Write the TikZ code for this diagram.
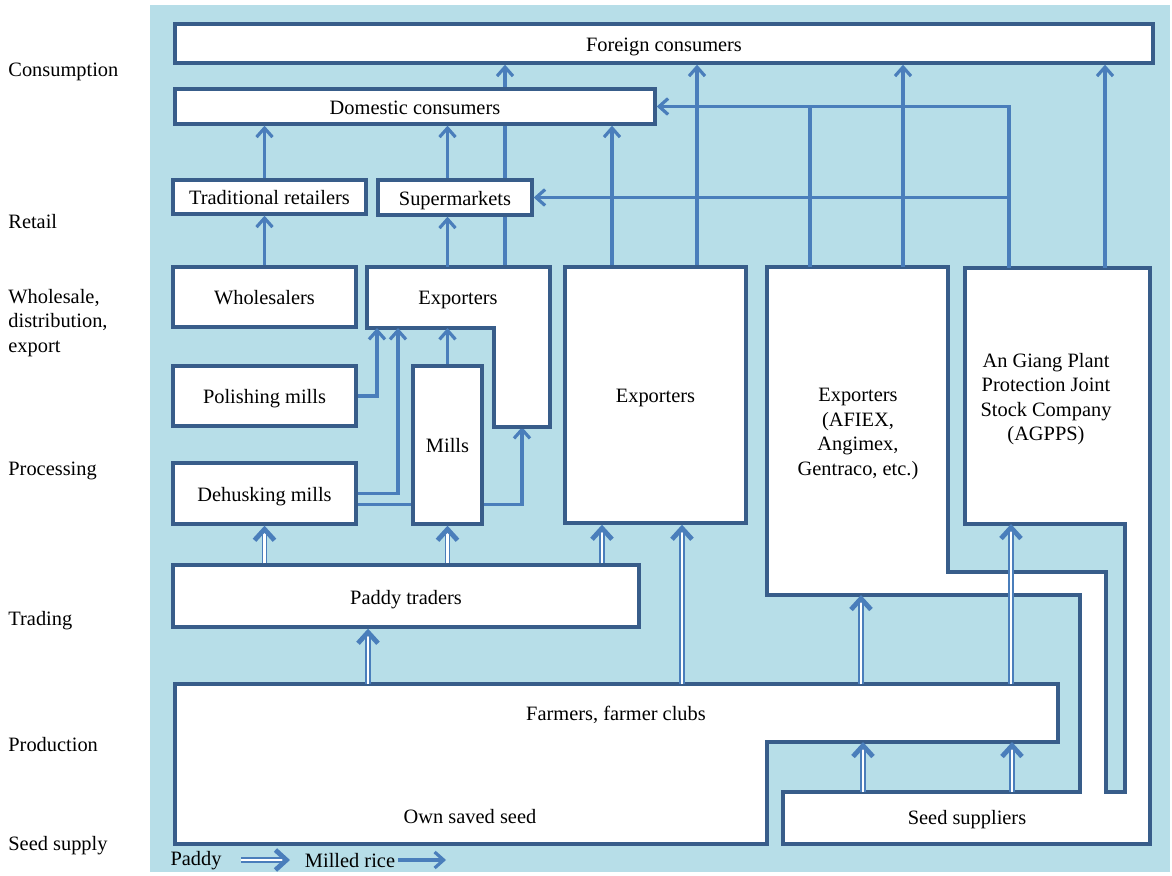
\documentclass[tikz,border=0pt]{standalone}
\usepackage{fontspec}
\setmainfont{Liberation Serif}
\usetikzlibrary{arrows.meta}
\usetikzlibrary{backgrounds}
\definecolor{bgblue}{HTML}{B7DEE8}
\definecolor{edgeblue}{HTML}{385D8A}
\definecolor{flowblue}{HTML}{4A7EBB}

\begin{document}
\begin{tikzpicture}[x=0.5pt, y=-0.5pt,
  font=\fontsize{10.2}{12.3}\selectfont,
  box/.style={draw=edgeblue, line width=1.7pt, fill=white, inner sep=0pt,
    text height=9pt, text depth=1pt},
  outline/.style={draw=edgeblue, line width=1.7pt, fill=white},
  rice/.style={draw=flowblue, line width=1.6pt, -{Straight Barb[length=4.5pt, width=8pt]}},
  riceline/.style={draw=flowblue, line width=1.6pt},
  paddy/.style={draw=flowblue, line width=0.75pt, double=white, double distance=1.4pt,
    -{Straight Barb[length=5.5pt, width=10pt, line width=2.4pt]}},
  stage/.style={anchor=west, align=left, inner sep=0pt}]
\useasboundingbox (0,0) rectangle (1172,876);
\begin{scope}[on background layer]
\fill[bgblue] (150,5) rectangle (1170,872);
\end{scope}

% stages
\node[stage] (consum) at (8,72) {Consumption};
\node[stage] (retail) at (8,222) {Retail};
\node[stage] (whsale) at (8,323) {Wholesale,\\distribution,\\export};
\node[stage] (proc) at (8,471) {Processing};
\node[stage] (trade) at (8,621) {Trading};
\node[stage] (prod) at (8,745) {Production};
\node[stage] (seedsup) at (8,846) {Seed supply};

% boxes
\node[box, minimum width=489pt, minimum height=19.5pt] (foreign) at (664,43.5) {Foreign consumers};
\node[box, minimum width=240pt, minimum height=17.5pt] (domestic) at (415,106.5) {Domestic consumers};
\node[box, minimum width=96.5pt, minimum height=17pt] (tradret) at (269.5,197) {Traditional retailers};
\node[box, minimum width=77pt, minimum height=17.5pt] (supermk) at (455,197.5) {Supermarkets};
\node[box, minimum width=91.5pt, minimum height=30pt] (whole) at (264.5,297) {Wholesalers};
\node[box, minimum width=91.5pt, minimum height=30pt] (polish) at (264.5,396) {Polishing mills};
\node[box, minimum width=91.5pt, minimum height=30.5pt] (dehusk) at (264.5,493.5) {Dehusking mills};
\node[box, minimum width=34.5pt, minimum height=79pt] (mills) at (447.5,445) {Mills};
\node[box, minimum width=90.5pt, minimum height=128pt] (expmid) at (655.5,395) {Exporters};
\node[box, minimum width=233pt, minimum height=31pt] (paddytr) at (406,596) {Paddy traders};

% exporters with a leg
\draw[outline] (367,267) -- (550,267) -- (550,427) -- (494,427) -- (494,328)
  -- (367,328) -- cycle;
\node (expsmall) at (458,300) {Exporters};
\coordinate (expsN) at (458,267);
\coordinate (expsB) at (458,328);
\coordinate (pe) at (377,328);
\coordinate (de) at (398,328);
\coordinate (le) at (522,427);

% farmers
\draw[outline] (175,684) -- (1058,684) -- (1058,742) -- (767,742) -- (767,844)
  -- (175,844) -- cycle;
\node (farmers) at (616,715) {Farmers, farmer clubs};
\node (ownseed) at (470,817) {Own saved seed};
\coordinate (farmN) at (616,684);
\coordinate (farmS) at (900,742);

% exporters, AGPPS and seed suppliers
\draw[outline] (767,267) -- (948,267) -- (948,572) -- (1106,572) -- (1106,792)
  -- (1125,792) -- (1125,524) -- (965,524) -- (965,268) -- (1150,268)
  -- (1150,844) -- (783,844) -- (783,792) -- (1080,792) -- (1080,595)
  -- (767,595) -- cycle;
\node[align=center] (afiex) at (858,434) {Exporters\\(AFIEX,\\Angimex,\\Gentraco, etc.)};
\node[align=center] (agpps) at (1046,399) {An Giang Plant\\Protection Joint\\Stock Company\\(AGPPS)};
\node (seed) at (967,820) {Seed suppliers};
\coordinate (afiexN) at (858,267);
\coordinate (afiexS) at (858,595);
\coordinate (agppsN) at (1046,268);
\coordinate (agppsS) at (1046,524);
\coordinate (seedN) at (967,792);

% milled rice
\draw[rice] (whole.north) -- (whole.north |- tradret.south);
\draw[rice] (tradret.north -| whole) -- (domestic.south -| whole);
\draw[rice] (supermk.north -| mills) -- (domestic.south -| mills);
\draw[rice] (expsN -| mills) -- (supermk.south -| mills);
\draw[rice] (mills.north) -- (expsB -| mills);
\draw[rice] (polish.east) -| (pe);
\draw[rice] (dehusk.east) -| (de);
\draw[rice] (612,0 |- expmid.north) -- (612,0 |- domestic.south);
\draw[rice] (697,0 |- expmid.north) -- (697,0 |- foreign.south);
\draw[rice] (903,0 |- afiexN) -- (903,0 |- foreign.south);
\draw[rice] (1105,0 |- agppsN) -- (1105,0 |- foreign.south);
\draw[riceline] (810,0 |- afiexN) -- (810,0 |- domestic.east);
\draw[rice] (1009,0 |- agppsN) |- (domestic.east);
\draw[rice] (1009,0 |- supermk.east) -- (supermk.east);
\begin{scope}[on background layer]
\draw[rice] (505,0 |- expsN) -- (505,0 |- foreign.south);
\draw[rice] ([yshift=-5.5pt]dehusk.east) -| (le);
\end{scope}

% paddy
\draw[paddy] (paddytr.north -| dehusk) -- (dehusk.south);
\draw[paddy] (paddytr.north -| mills) -- (mills.south);
\draw[paddy] (602,0 |- paddytr.north) -- (602,0 |- expmid.south);
\draw[paddy] (368,0 |- farmN) -- (368,0 |- paddytr.south);
\draw[paddy] (682,0 |- farmN) -- (682,0 |- expmid.south);
\draw[paddy] (861,0 |- farmN) -- (861,0 |- afiexS);
\draw[paddy] (1011,0 |- farmN) -- (1011,0 |- agppsS);
\draw[paddy] (863,0 |- seedN) -- (863,0 |- farmS);
\draw[paddy] (1012,0 |- seedN) -- (1012,0 |- farmS);

% legend
\node (lgpaddy) at (196,861) {Paddy};
\node (lgrice) at (350,861) {Milled rice};
\coordinate (lgA) at (241,860);
\coordinate (lgB) at (290,860);
\coordinate (lgC) at (398,860);
\coordinate (lgD) at (446,860);
\draw[paddy] (lgA) -- (lgB);
\draw[rice] (lgC) -- (lgD);
\end{tikzpicture}
\end{document}
